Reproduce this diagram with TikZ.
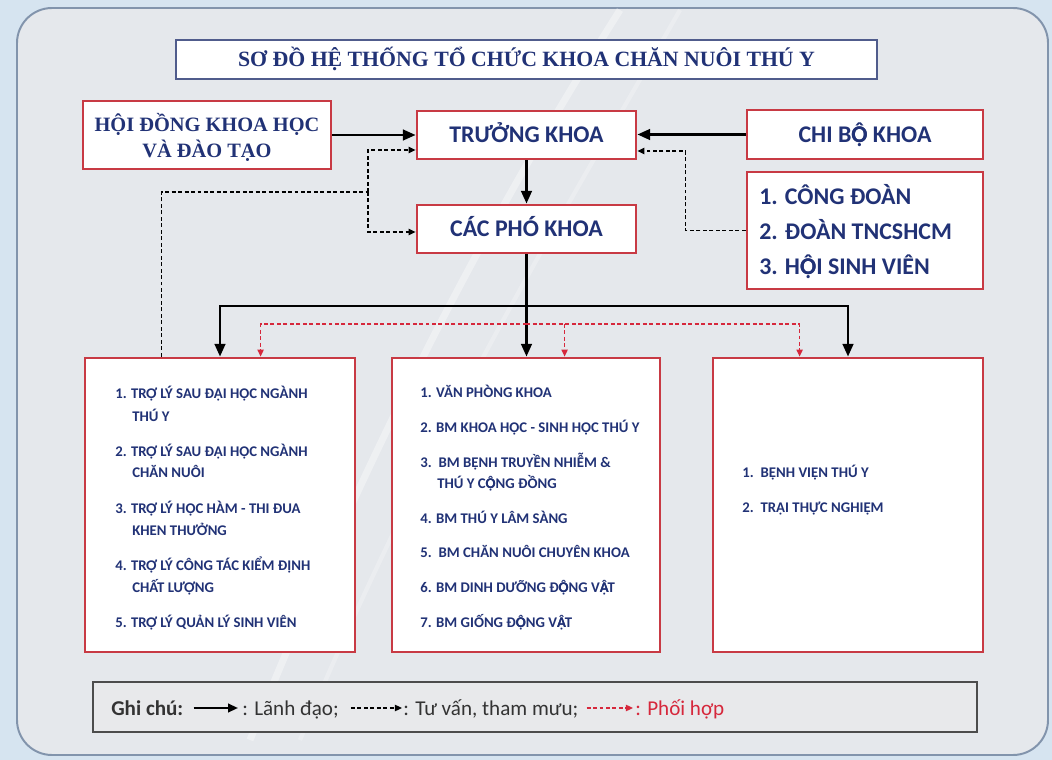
\documentclass[tikz,border=0pt]{standalone}
\usepackage{fontspec}
\setmainfont{Carlito}
\newfontfamily\titlefont{Liberation Serif}
\usetikzlibrary{arrows.meta,calc}
\definecolor{navy}{RGB}{33,50,118}
\definecolor{boxred}{RGB}{200,58,68}
\definecolor{panel}{RGB}{229,232,236}
\definecolor{outerbg}{RGB}{214,228,240}
\definecolor{panelborder}{RGB}{130,148,172}
\definecolor{titleborder}{RGB}{80,92,140}
\definecolor{coopred}{RGB}{214,40,60}
\definecolor{legfill}{RGB}{232,233,235}
% O/A with circumflex and dot below, built from Carlito glyphs that render
\newcommand{\ODC}{\makebox[0pt][l]{Ọ}Ô}
\newcommand{\ADC}{\makebox[0pt][l]{Ạ}Â}
\begin{document}
\begin{tikzpicture}[x=0.025cm,y=-0.025cm,
  redbox/.style={draw=boxred, line width=2pt, fill=white},
  hbox/.style={redbox, text=navy, font=\fontsize{17}{20}\selectfont\bfseries, text height=11pt, text depth=0pt, inner sep=0pt},
  sertxt/.style={anchor=base, inner sep=0pt, text=navy, font=\titlefont\fontsize{14.5}{18}\selectfont\bfseries},
  listtxt/.style={anchor=base west, inner sep=0pt, text=navy, font=\fontsize{10.5}{12}\selectfont\bfseries},
  orgtxt/.style={anchor=base west, inner sep=0pt, text=navy, font=\fontsize{17}{20}\selectfont\bfseries},
  legtxt/.style={anchor=base west, inner sep=0pt, text=black!80, font=\fontsize{15}{18}\selectfont},
  lead/.style={line width=1.8pt, -{Triangle[length=9pt,width=7.5pt]}},
  adv/.style={line width=0.9pt, dash pattern=on 2.8pt off 1.8pt, -{Triangle[length=5pt,width=4.5pt]}},
  coop/.style={coopred, line width=0.9pt, dash pattern=on 2.8pt off 1.8pt, -{Triangle[length=5pt,width=4.5pt]}},
]
% background
\fill[outerbg] (0,0) rectangle (1052,760);
\draw[panelborder, fill=panel, line width=1.4pt, rounded corners=0.875cm] (17,8) rectangle (1048,755);
\draw[white, opacity=0.35, line width=5pt] (620,10) .. controls (500,200) and (380,420) .. (250,740);
\draw[white, opacity=0.25, line width=3pt] (680,10) .. controls (560,220) and (430,430) .. (300,740);

% title
\node[draw=titleborder, line width=1.3pt, fill=white, minimum width=701*0.025cm, minimum height=39*0.025cm,
      inner sep=0pt, text height=10.2pt, text depth=0pt, text=navy,
      font=\titlefont\fontsize{15.5}{19}\selectfont\bfseries] (title) at (526.5,59.5)
      {SƠ ĐỒ HỆ THỐNG TỔ CHỨC KHOA CHĂN NUÔI THÚ Y};

% top boxes
\node[redbox, minimum width=248*0.025cm, minimum height=68*0.025cm] (hd) at (207,135) {};
\node[sertxt] (hd1) at (207,132) {HỘI ĐỒNG KHOA HỌC};
\node[sertxt] (hd2) at (207,157.5) {VÀ ĐÀO TẠO};
\node[hbox, minimum width=219*0.025cm, minimum height=48*0.025cm] (tk) at (526.5,135) {TRƯỞNG KHOA};
\node[hbox, minimum width=219*0.025cm, minimum height=48*0.025cm] (pk) at (526.5,229) {CÁC PHÓ KHOA};
\node[hbox, minimum width=236*0.025cm, minimum height=49*0.025cm] (cb) at (865,134.5) {CHI B\ODC{} KHOA};
\node[redbox, minimum width=236*0.025cm, minimum height=117*0.025cm] (org) at (865,230.5) {};
\node[orgtxt] (o1) at (759,205) {1. CÔNG ĐOÀN};
\node[orgtxt] (o2) at (759,240) {2. ĐOÀN TNCSHCM};
\node[orgtxt] (o3) at (759,275) {3. H\ODC{}I SINH VIÊN};

% bottom boxes
\node[redbox, minimum width=270*0.025cm, minimum height=294*0.025cm] (b1) at (220,505) {};
\node[redbox, minimum width=268*0.025cm, minimum height=294*0.025cm] (b2) at (526,505) {};
\node[redbox, minimum width=270*0.025cm, minimum height=294*0.025cm] (b3) at (848,505) {};

\node[listtxt] (l1) at (115,399) {1. TRỢ LÝ SAU ĐẠI HỌC NGÀNH};
\node[listtxt] (l1b) at (132,422) {THÚ Y};
\node[listtxt] (l2) at (115,456) {2. TRỢ LÝ SAU ĐẠI HỌC NGÀNH};
\node[listtxt] (l2b) at (132,478) {CHĂN NUÔI};
\node[listtxt] (l3) at (115,513) {3. TRỢ LÝ HỌC HÀM - THI ĐUA};
\node[listtxt] (l3b) at (132,535) {KHEN THƯỞNG};
\node[listtxt] (l4) at (115,570) {4. TRỢ LÝ CÔNG TÁC KIỂM ĐỊNH};
\node[listtxt] (l4b) at (132,592) {CHẤT LƯỢNG};
\node[listtxt] (l5) at (115,627) {5. TRỢ LÝ QUẢN LÝ SINH VIÊN};

\node[listtxt] (m1) at (420,398) {1. VĂN PHÒNG KHOA};
\node[listtxt] (m2) at (420,433) {2. BM KHOA HỌC - SINH HỌC THÚ Y};
\node[listtxt] (m3) at (420,468) {3.\, BM BỆNH TRUYỀN NHIỄM \&};
\node[listtxt] (m3b) at (437,488) {THÚ Y C\ODC{}NG ĐỒNG};
\node[listtxt] (m4) at (420,523) {4. BM THÚ Y LÂM SÀNG};
\node[listtxt] (m5) at (420,557) {5.\, BM CHĂN NUÔI CHUYÊN KHOA};
\node[listtxt] (m6) at (420,592) {6. BM DINH DƯỠNG Đ\ODC{}NG V\ADC{}T};
\node[listtxt] (m7) at (420,627) {7. BM GIỐNG Đ\ODC{}NG V\ADC{}T};

\node[listtxt] (r1) at (742,478) {1.\, BỆNH VIỆN THÚ Y};
\node[listtxt] (r2) at (742,512) {2.\, TRẠI THỰC NGHIỆM};

% connectors: leadership
\draw[lead] (hd.east) -- (hd.east -| tk.west);
\draw[lead] (cb.west) -- (cb.west -| tk.east);
\draw[lead] (tk.south) -- (pk.north);
\coordinate (bus) at (526.5,306);
\draw[lead] (pk.south) -- (pk.south |- b2.north);
\draw[lead] (bus) -| (b1.north);
\draw[lead] (bus) -| (b3.north);

% advisory
\coordinate (dj) at (368,192);
\coordinate (a1) at ($(b1.north west)+(78,0)$);
\draw[adv, -] (a1) |- (dj);
\draw[adv] (dj) |- ($(tk.west)+(0,15)$);
\draw[adv] (dj) |- ($(pk.west)+(0,3)$);
\draw[adv] (org.west) -- ++(-60,0) |- ($(tk.east)+(0,16)$);

% cooperation
\coordinate (rbus) at (526.5,324);
\coordinate (c1) at ($(b1.north west)+(177,0)$);
\coordinate (c2) at ($(b2.north west)+(174,0)$);
\coordinate (c3) at ($(b3.north west)+(88,0)$);
\draw[coop] (rbus) -| (c1);
\draw[coop] (rbus) -| (c3);
\draw[coop] (c2 |- rbus) -- (c2);

% legend
\node[draw=black!70, line width=1.2pt, fill=legfill, minimum width=884*0.025cm, minimum height=50*0.025cm] (legend) at (535,707) {};
\node[legtxt, font=\fontsize{15}{18}\selectfont\bfseries] (lg0) at (111,715) {Ghi chú:};
\node[legtxt] (lg1) at (242,715) {: Lãnh đạo;};
\node[legtxt] (lg2) at (403,715) {: Tư vấn, tham mưu;};
\node[legtxt, text=coopred] (lg3) at (635,715) {: Phối hợp};
\draw[line width=1.5pt, -{Triangle[length=7pt,width=6pt]}] ($(lg0.base east)+(10,-7)$) -- ($(lg1.base west)+(-4,-7)$);
\draw[adv] ($(lg1.base east)+(12,-7)$) -- ($(lg2.base west)+(-1,-7)$);
\draw[coop] ($(lg2.base east)+(8,-7)$) -- ($(lg3.base west)+(-2,-7)$);
\end{tikzpicture}
\end{document}
